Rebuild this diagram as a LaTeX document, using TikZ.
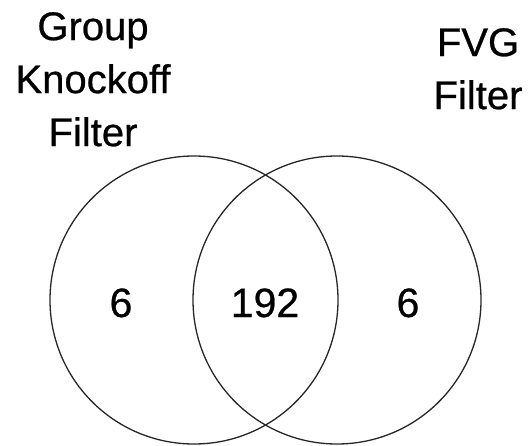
\documentclass[tikz,border=0pt]{standalone}
\usepackage{fontspec}
\setmainfont[FakeBold=0.6]{Liberation Sans}
\begin{document}
\begin{tikzpicture}[x=1pt,y=-1pt,
  setcircle/.style={draw=black!85, line width=1.3pt},
  lbl/.style={font=\fontsize{40}{53}\selectfont, align=center, inner sep=0pt},
  num/.style={font=\fontsize{41}{49}\selectfont, inner sep=0pt, anchor=base}]
\useasboundingbox (0,0) rectangle (529,446);
\draw[setcircle] (194,300) circle[radius=144pt];
\draw[setcircle] (337,300) circle[radius=144pt];
\node[lbl, anchor=north] (gk) at (93,12) {Group\\Knockoff\\Filter};
\node[lbl, anchor=north] (fvg) at (478,28) {FVG\\Filter};
\node[num] (a) at (121,317) {6};
\node[num] (b) at (265,317) {192};
\node[num] (c) at (408,317) {6};
\end{tikzpicture}
\end{document}
